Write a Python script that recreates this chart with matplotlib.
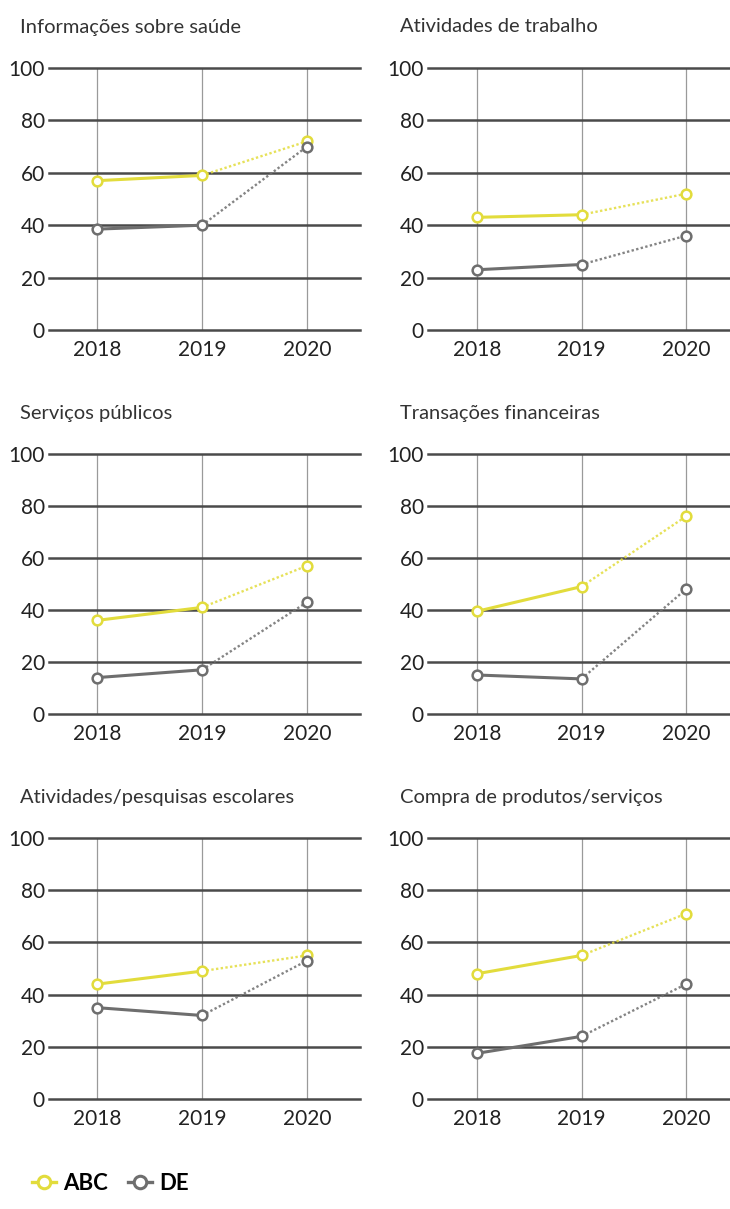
import matplotlib
matplotlib.use("Agg")
import matplotlib.pyplot as plt
from matplotlib.lines import Line2D

plt.rcParams['font.family'] = ['Lato', 'DejaVu Sans']

years = [2018, 2019, 2020]
titles = [
    "Informações sobre saúde",
    "Atividades de trabalho",
    "Serviços públicos",
    "Transações financeiras",
    "Atividades/pesquisas escolares",
    "Compra de produtos/serviços",
]
abc = [
    [57, 59, 72],
    [43, 44, 52],
    [36, 41, 57],
    [39.5, 49, 76],
    [44, 49, 55],
    [48, 55, 71],
]
de = [
    [38.5, 40, 70],
    [23, 25, 36],
    [14, 17, 43],
    [15, 13.5, 48],
    [35, 32, 53],
    [17.5, 24, 44],
]
yticks = [0, 20, 40, 60, 80, 100]

ABC_COLOR = "#e2dc3c"
DE_COLOR = "#6e6e6e"

W, H = 730, 1209
fig = plt.figure(figsize=(W / 100, H / 100), dpi=100)

# pixel boxes: (left, right) and (top = 100, bottom = 0)
cols = [(49, 360), (428, 730)]
rows = [(68, 330), (454, 714), (838, 1099)]


def draw_series(ax, vals, color):
    # solid 2018-2019, dotted 2019-2020, open markers on top
    ax.plot(years[:2], vals[:2], color=color, lw=2.2, solid_capstyle='round', zorder=4)
    ax.plot(years[1:], vals[1:], color=color, lw=1.7, ls=(0, (1, 1)), alpha=0.85, zorder=3)
    ax.plot(years, vals, ls='none', marker='o', ms=7, mfc='white', mec=color,
            mew=1.8, zorder=5)


for i, title in enumerate(titles):
    l, r = cols[i % 2]
    t, b = rows[i // 2]
    ax = fig.add_axes([l / W, 1 - b / H, (r - l) / W, (b - t) / H])
    if i % 2 == 0:
        ax.set_xlim(2018 - 48 / 105, 2020 + 53 / 105)
    else:
        ax.set_xlim(2018 - 49 / 104.5, 2020 + 44 / 104.5)
    ax.set_ylim(0, 100)
    for s in ax.spines.values():
        s.set_visible(False)
    for y in yticks:
        ax.axhline(y, color="#4a4a4a", lw=1.8, zorder=1, clip_on=False)
    for x in years:
        ax.plot([x, x], [0, 100], color="#9a9a9a", lw=0.9, zorder=0)
    ax.set_yticks(yticks)
    ax.set_xticks(years)
    ax.set_xticklabels([str(y) for y in years])
    ax.tick_params(length=0, labelsize=15, colors="#222222", pad=3)
    ax.tick_params(axis='x', pad=7)

    draw_series(ax, abc[i], ABC_COLOR)
    draw_series(ax, de[i], DE_COLOR)

    tx = 20 if i % 2 == 0 else 400
    fig.text(tx / W, 1 - (t - 41) / H, title, fontsize=14.5, color="#333333",
             va='center', ha='left')

handles = [
    Line2D([], [], color=ABC_COLOR, lw=2.4, marker='o', ms=9, mfc='white', mec=ABC_COLOR, mew=2.2),
    Line2D([], [], color=DE_COLOR, lw=2.4, marker='o', ms=9, mfc='white', mec=DE_COLOR, mew=2.2),
]
fig.legend(handles, ["ABC", "DE"], loc='center left', bbox_to_anchor=(12 / W, 1 - 1183 / H),
           ncol=2, frameon=False, handlelength=1.1, handletextpad=0.3, columnspacing=0.9,
           prop={'size': 16, 'weight': 'bold'})

fig.savefig("out.png", dpi=100, facecolor='white')
